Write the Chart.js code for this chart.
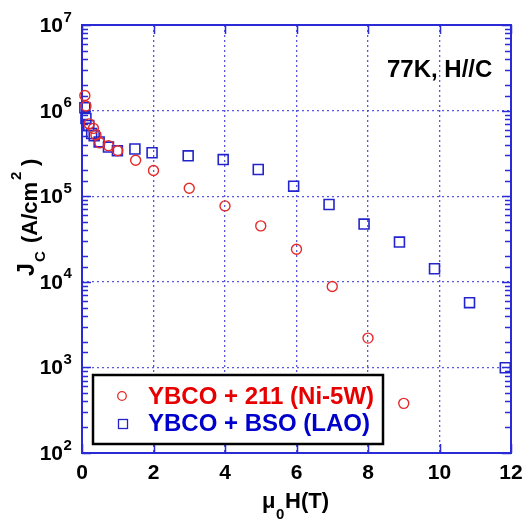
<!DOCTYPE html>
<html>
<head>
<meta charset="utf-8">
<script src="https://cdn.jsdelivr.net/npm/chart.js@4.4.1/dist/chart.umd.min.js"></script>
<style>
html,body{margin:0;padding:0;background:#fff;}
#wrap{width:524px;height:521px;position:relative;}
</style>
</head>
<body>
<div id="wrap"><canvas id="c" width="524" height="521"></canvas></div>
<script>
// ---- data ----
const seriesNames = ['YBCO + 211 (Ni-5W)', 'YBCO + BSO (LAO)'];
const redField = [0.08, 0.11, 0.2, 0.32, 0.39, 0.5, 0.74, 1, 1.5, 2, 3, 4, 5, 6, 7, 8, 9];
const redJc = [1.5e6, 1.13e6, 7.0e5, 6.2e5, 5.2e5, 4.2e5, 3.9e5, 3.4e5, 2.63e5, 2.0e5, 1.24e5, 7.7e4, 4.5e4, 2.4e4, 8.8e3, 2.2e3, 3.8e2];
const blueField = [0.08, 0.11, 0.19, 0.27, 0.34, 0.48, 0.74, 0.99, 1.48, 1.96, 2.97, 3.95, 4.93, 5.92, 6.91, 7.89, 8.88, 9.86, 10.84, 11.84];
const blueJc = [1.08e6, 8.1e5, 6.7e5, 5.4e5, 5.1e5, 4.3e5, 3.75e5, 3.4e5, 3.56e5, 3.22e5, 2.96e5, 2.68e5, 2.05e5, 1.31e5, 8.0e4, 4.72e4, 2.91e4, 1.42e4, 5.7e3, 9.9e2];
const xTicks = [0, 2, 4, 6, 8, 10, 12];
const yDecades = [2, 3, 4, 5, 6, 7];
const annotation = '77K, H//C';

const RED = '#e52a2a', BLUE = '#2424cc';
const RED_TXT = '#e60000', BLUE_TXT = '#0000cc';
const GRID = 'rgba(70,70,225,0.9)';
const AXIS = '#2a2ad6';
const FONT = '"Liberation Sans", Arial, sans-serif';

const toPts = (xs, ys) => xs.map((x, i) => ({x: x, y: ys[i]}));
const isMajor = v => Math.abs(Math.log10(v) - Math.round(Math.log10(v))) < 1e-6;

const decor = {
  id: 'decor',
  beforeDatasetsDraw(chart) {
    const {ctx, chartArea: a, scales: {x, y}} = chart;
    ctx.save();
    ctx.strokeStyle = AXIS;
    ctx.lineWidth = 2;
    ctx.strokeRect(a.left, a.top, a.right - a.left, a.bottom - a.top);
    ctx.lineWidth = 1.5;
    y.ticks.forEach(t => {
      const py = Math.round(y.getPixelForValue(t.value)) + 0.5;
      const len = isMajor(t.value) ? 9 : 6;
      ctx.beginPath();
      ctx.moveTo(a.left, py); ctx.lineTo(a.left + len, py);
      ctx.moveTo(a.right, py); ctx.lineTo(a.right - len, py);
      ctx.stroke();
    });
    xTicks.forEach(v => {
      const px = Math.round(x.getPixelForValue(v)) + 0.5;
      ctx.beginPath();
      ctx.moveTo(px, a.bottom); ctx.lineTo(px, a.bottom - 9);
      ctx.moveTo(px, a.top); ctx.lineTo(px, a.top + 9);
      ctx.stroke();
    });
    // legend box
    const lx = 93, ly = 375, lw = 290, lh = 69;
    ctx.fillStyle = '#fff';
    ctx.fillRect(lx, ly, lw, lh);
    ctx.strokeStyle = '#000';
    ctx.lineWidth = 2.5;
    ctx.strokeRect(lx, ly, lw, lh);
    const ds = chart.data.datasets;
    ctx.lineWidth = 1.3;
    ctx.strokeStyle = ds[0].borderColor;
    ctx.beginPath(); ctx.arc(122, 396, 4.3, 0, Math.PI * 2); ctx.stroke();
    ctx.strokeStyle = ds[1].borderColor;
    ctx.strokeRect(118.5, 419.5, 9, 9);
    ctx.font = 'bold 24px ' + FONT;
    ctx.textBaseline = 'middle';
    ctx.textAlign = 'left';
    ctx.fillStyle = RED_TXT;
    ctx.fillText(ds[0].label, 148, 397);
    ctx.fillStyle = BLUE_TXT;
    ctx.fillText(ds[1].label, 148, 424.5);
    ctx.restore();
  },
  afterDraw(chart) {
    const {ctx, chartArea: a, scales: {x, y}} = chart;
    ctx.save();
    ctx.fillStyle = '#000';
    ctx.font = 'bold 21px ' + FONT;
    ctx.textAlign = 'center';
    ctx.textBaseline = 'middle';
    xTicks.forEach(v => ctx.fillText(String(v), x.getPixelForValue(v), 473.5));
    yDecades.forEach(n => {
      const py = y.getPixelForValue(Math.pow(10, n));
      ctx.font = 'bold 21px ' + FONT;
      ctx.textAlign = 'right';
      ctx.textBaseline = 'alphabetic';
      ctx.fillText('10', 63, py + 7);
      ctx.font = 'bold 15px ' + FONT;
      ctx.textAlign = 'left';
      ctx.fillText(String(n), 63.5, py - 3.5);
    });
    // x title: mu_0 H(T)
    ctx.textAlign = 'left';
    ctx.textBaseline = 'alphabetic';
    ctx.font = 'bold 22px ' + FONT;
    ctx.fillText('\u03bc', 262, 508);
    ctx.font = 'bold 15px ' + FONT;
    ctx.fillText('0', 276, 519);
    ctx.font = 'bold 22px ' + FONT;
    ctx.fillText('H(T)', 285, 508);
    // y title: J_C (A/cm^2)
    ctx.save();
    ctx.translate(37, 0);
    ctx.rotate(-Math.PI / 2);
    ctx.font = 'bold 23px ' + FONT;
    ctx.fillText('J', -276, -3);
    ctx.font = 'bold 15px ' + FONT;
    ctx.fillText('C', -262, 8);
    ctx.font = 'bold 22px ' + FONT;
    ctx.fillText('(A/cm', -243, 0);
    ctx.font = 'bold 15px ' + FONT;
    ctx.fillText('2', -180, -16);
    ctx.font = 'bold 22px ' + FONT;
    ctx.fillText(')', -166, 0);
    ctx.restore();
    // annotation
    ctx.font = 'bold 24px ' + FONT;
    ctx.textAlign = 'left';
    ctx.textBaseline = 'alphabetic';
    ctx.fillText(annotation, 387, 77);
    ctx.restore();
  }
};

new Chart(document.getElementById('c'), {
  type: 'scatter',
  data: {
    datasets: [
      {label: seriesNames[0], data: toPts(redField, redJc), pointStyle: 'circle', pointRadius: 5,
       borderColor: RED, backgroundColor: 'transparent', pointBorderWidth: 1.4, clip: false},
      {label: seriesNames[1], data: toPts(blueField, blueJc), pointStyle: 'rect', pointRadius: 7,
       borderColor: BLUE, backgroundColor: 'transparent', pointBorderWidth: 1.6, clip: false}
    ]
  },
  options: {
    responsive: false,
    animation: false,
    events: [],
    layout: {padding: {left: 82, right: 13, top: 25, bottom: 68}},
    plugins: {legend: {display: false}, tooltip: {enabled: false}},
    scales: {
      x: {
        type: 'linear', min: 0, max: 12,
        ticks: {display: false, stepSize: 2},
        grid: {drawTicks: false, lineWidth: 1.3,
               color: c => (c.tick && c.tick.value > 0 && c.tick.value < 12) ? GRID : 'transparent'},
        border: {display: false, dash: [2, 3]}
      },
      y: {
        type: 'logarithmic', min: 100, max: 1e7,
        ticks: {display: false},
        grid: {drawTicks: false, lineWidth: 1.3,
               color: c => (c.tick && isMajor(c.tick.value) && c.tick.value > 100 && c.tick.value < 1e7) ? GRID : 'transparent'},
        border: {display: false, dash: [2, 3]}
      }
    }
  },
  plugins: [decor]
});
</script>
</body>
</html>
